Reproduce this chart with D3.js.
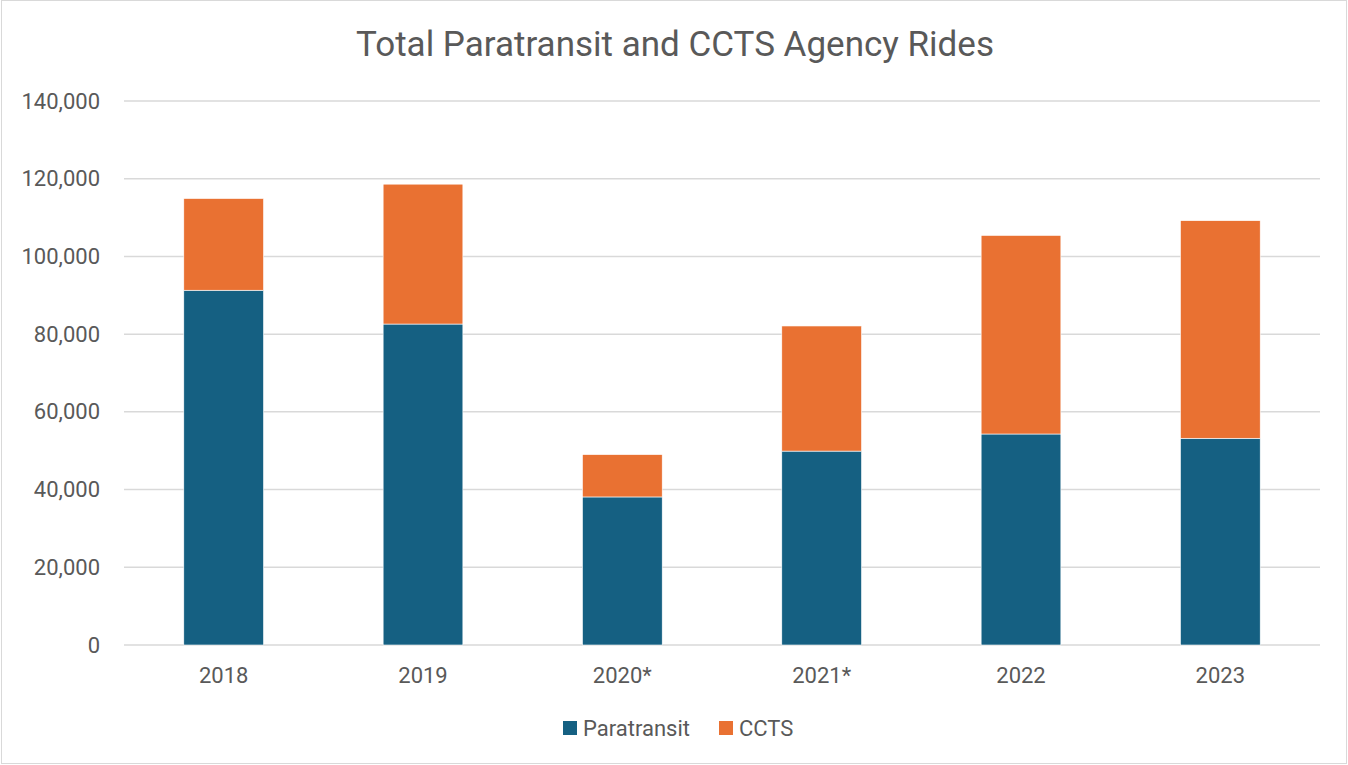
<!DOCTYPE html>
<html>
<head>
<meta charset="utf-8">
<script src="https://cdn.jsdelivr.net/npm/d3@7"></script>
<style>
  html, body { margin: 0; padding: 0; background: #fff; }
  svg { display: block; }
  text { font-family: Roboto, "Open Sans", sans-serif; }
</style>
</head>
<body>
<svg id="chart" width="1348" height="765"></svg>
<script>
const categories = ["2018", "2019", "2020*", "2021*", "2022", "2023"];
const paratransit = [91300, 82600, 38100, 49900, 54300, 53200];
const ccts = [23600, 36000, 10900, 32200, 51100, 56000];
const seriesNames = ["Paratransit", "CCTS"];
const seriesColors = ["#156082", "#E97132"];
const yTicks = [0, 20000, 40000, 60000, 80000, 100000, 120000, 140000];
const title = "Total Paratransit and CCTS Agency Rides";

const svg = d3.select("#chart");
const W = 1348, H = 765;
const margin = { left: 124, right: 28, top: 101, bottom: 120 };
const plotW = W - margin.left - margin.right;
const plotH = H - margin.top - margin.bottom;

// chart border
svg.append("rect").attr("x", 1.5).attr("y", 0.5).attr("width", W - 3).attr("height", H - 2)
  .attr("fill", "#fff").attr("stroke", "#d9d9d9").attr("stroke-width", 1);

const g = svg.append("g").attr("transform", `translate(${margin.left},${margin.top})`);

const x = d3.scaleBand().domain(categories).range([0, plotW]).paddingInner(0.6).paddingOuter(0.3);
const y = d3.scaleLinear().domain([0, 140000]).range([plotH, 0]);

// gridlines
g.append("g").selectAll("line").data(yTicks).join("line")
  .attr("x1", 0).attr("x2", plotW)
  .attr("y1", d => y(d)).attr("y2", d => y(d))
  .attr("stroke", "#d9d9d9").attr("stroke-width", 1.5);

// y axis
const yAxis = d3.axisLeft(y).tickValues(yTicks).tickFormat(d3.format(",")).tickSize(0).tickPadding(24);
const ya = g.append("g").call(yAxis);
ya.select(".domain").remove();
ya.selectAll("text").attr("fill", "#595959").style("font-size", "22px");

// x axis
const xAxis = d3.axisBottom(x).tickSize(0).tickPadding(22);
const xa = g.append("g").attr("transform", `translate(0,${plotH})`).call(xAxis);
xa.select(".domain").remove();
xa.selectAll("text").attr("fill", "#595959").style("font-size", "22px");

// stacked data
const rows = categories.map((c, i) => ({ cat: c, Paratransit: paratransit[i], CCTS: ccts[i] }));
const stack = d3.stack().keys(seriesNames)(rows);
const color = d3.scaleOrdinal().domain(seriesNames).range(seriesColors);

g.append("g").selectAll("g").data(stack).join("g")
  .attr("fill", d => color(d.key))
  .selectAll("rect").data(d => d).join("rect")
  .attr("x", d => x(d.data.cat))
  .attr("width", x.bandwidth())
  .attr("y", d => y(d[1]))
  .attr("height", d => y(d[0]) - y(d[1]))
  .attr("stroke", "#fff").attr("stroke-width", 0.6);

// title
svg.append("text").attr("x", W / 2 + 1).attr("y", 56).attr("text-anchor", "middle")
  .attr("fill", "#595959").style("font-size", "35px").text(title);

// legend
const legend = svg.append("g");
const legendItems = [{ name: "Paratransit", x: 563 }, { name: "CCTS", x: 719 }];
legendItems.forEach((it, i) => {
  legend.append("rect").attr("x", it.x).attr("y", 721).attr("width", 14).attr("height", 14)
    .attr("fill", color(it.name));
  legend.append("text").attr("x", it.x + 20).attr("y", 736).attr("fill", "#595959")
    .style("font-size", "22px").text(it.name);
});
</script>
</body>
</html>
